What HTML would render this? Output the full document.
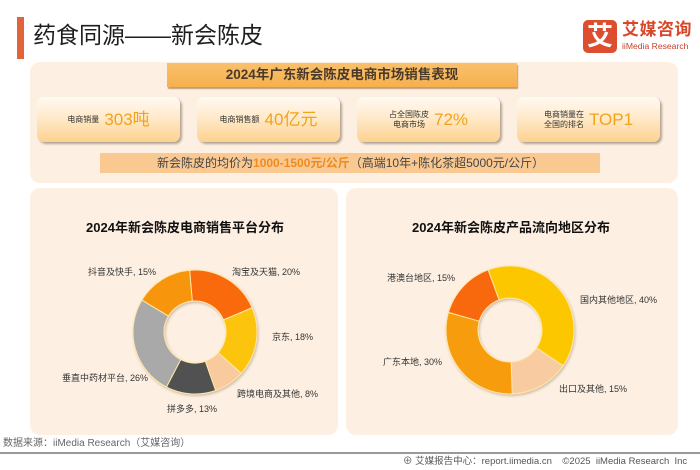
<!DOCTYPE html>
<html><head><meta charset="utf-8">
<style>
*{margin:0;padding:0;box-sizing:border-box;}
html,body{width:700px;height:470px;background:#fff;overflow:hidden;}
body{position:relative;font-family:"Liberation Sans","Noto Sans CJK SC",sans-serif;color:#333;}
.abs{position:absolute;}
.bar{left:17px;top:17px;width:7px;height:42px;background:#E2643A;}
.title{left:33px;top:18px;font-size:23px;line-height:34px;color:#1e1e1e;white-space:nowrap;}
.logo{left:583px;top:20px;width:34px;height:33px;background:#DD4E2E;border-radius:5px;color:#fff;font-size:26px;font-weight:bold;text-align:center;line-height:33px;}
.logot{left:622px;top:20px;font-size:17px;font-weight:bold;color:#D9472B;line-height:20px;white-space:nowrap;letter-spacing:0.5px;}
.logos{left:622px;top:41px;font-size:8.6px;color:#C8402A;line-height:10px;white-space:nowrap;}
.panel{background:#FDF0E3;border-radius:10px;}
.tbar{left:167px;top:63px;width:350px;height:24px;background:linear-gradient(#F9C06C,#F6B04E);box-shadow:1px 2px 1px rgba(140,90,30,0.55);text-align:center;font-size:13.5px;font-weight:bold;line-height:24px;color:#4a3a2a;white-space:nowrap;}
.card{top:97px;width:143px;height:45px;border-radius:7px;background:linear-gradient(180deg,#FFFAF2 0%,#FFEACB 45%,#FDD28E 100%);box-shadow:2px 2px 2px rgba(90,70,50,0.45);display:flex;align-items:center;justify-content:center;gap:5px;white-space:nowrap;}
.lab{font-size:8px;line-height:10px;color:#333;text-align:center;}
.val{font-size:17px;color:#F4A21C;line-height:22px;}
.price{left:100px;top:153px;width:500px;height:20px;background:#FAC992;font-size:12px;line-height:20px;color:#444;padding-left:57px;white-space:nowrap;}
.price b{color:#EF8A1C;}
.src{left:3px;top:437px;font-size:10px;color:#666;white-space:nowrap;line-height:14px;}
.line{left:0;top:452px;width:700px;height:2px;background:#9a9a9a;}
.foot{left:403px;top:455px;font-size:9.5px;color:#555;white-space:nowrap;line-height:14px;}
</style></head><body>
<div class="abs bar"></div>
<div class="abs title">药食同源——新会陈皮</div>
<div class="abs logo">艾</div>
<div class="abs logot">艾媒咨询</div>
<div class="abs logos">iiMedia Research</div>

<div class="abs panel" style="left:30px;top:62px;width:648px;height:121px;"></div>
<div class="abs tbar">2024年广东新会陈皮电商市场销售表现</div>

<div class="abs card" style="left:37px;"><div class="lab">电商销量</div><div class="val">303吨</div></div>
<div class="abs card" style="left:197px;"><div class="lab">电商销售额</div><div class="val">40亿元</div></div>
<div class="abs card" style="left:357px;"><div class="lab">占全国陈皮<br>电商市场</div><div class="val">72%</div></div>
<div class="abs card" style="left:517px;"><div class="lab">电商销量在<br>全国的排名</div><div class="val">TOP1</div></div>

<div class="abs price">新会陈皮的均价为<b>1000-1500元/公斤</b>（高端10年+陈化茶超5000元/公斤）</div>

<div class="abs panel" style="left:30px;top:188px;width:308px;height:247px;"></div>
<div class="abs panel" style="left:346px;top:188px;width:332px;height:247px;"></div>

<svg class="abs" style="left:0;top:0" width="700" height="470" viewBox="0 0 700 470" xmlns="http://www.w3.org/2000/svg">
<defs>
<filter id="sh" x="-20%" y="-20%" width="140%" height="140%">
<feDropShadow dx="1" dy="1.5" stdDeviation="1.2" flood-color="#7a5a30" flood-opacity="0.35"/>
</filter>
</defs>
<g font-family="Liberation Sans, Noto Sans CJK SC, sans-serif">
<text x="185" y="232" text-anchor="middle" font-size="13" font-weight="bold" fill="#111">2024年新会陈皮电商销售平台分布</text>
<text x="511" y="232" text-anchor="middle" font-size="13" font-weight="bold" fill="#111">2024年新会陈皮产品流向地区分布</text>
</g>
<g filter="url(#sh)" stroke="#FFE7A8" stroke-width="1">
<path d="M189.59,270.24 A62,62 0 0 1 252.07,307.78 L223.54,319.89 A31,31 0 0 0 192.30,301.12 Z" fill="#F96A08"/>
<path d="M252.07,307.78 A62,62 0 0 1 241.22,373.32 L218.11,352.66 A31,31 0 0 0 223.54,319.89 Z" fill="#FCC40A"/>
<path d="M241.22,373.32 A62,62 0 0 1 215.60,390.48 L205.30,361.24 A31,31 0 0 0 218.11,352.66 Z" fill="#F9CA9E"/>
<path d="M215.60,390.48 A62,62 0 0 1 166.47,387.04 L180.73,359.52 A31,31 0 0 0 205.30,361.24 Z" fill="#515151"/>
<path d="M166.47,387.04 A62,62 0 0 1 141.85,300.07 L168.43,316.03 A31,31 0 0 0 180.73,359.52 Z" fill="#A9A9A9"/>
<path d="M141.85,300.07 A62,62 0 0 1 189.59,270.24 L192.30,301.12 A31,31 0 0 0 168.43,316.03 Z" fill="#F7960E"/>

<path d="M488.11,269.86 A64,64 0 0 1 563.06,365.79 L536.53,347.89 A32,32 0 0 0 499.06,299.93 Z" fill="#FDC705"/>
<path d="M563.06,365.79 A64,64 0 0 1 512.23,393.96 L511.12,361.98 A32,32 0 0 0 536.53,347.89 Z" fill="#F9CBA0"/>
<path d="M512.23,393.96 A64,64 0 0 1 448.48,312.36 L479.24,321.18 A32,32 0 0 0 511.12,361.98 Z" fill="#F79C0C"/>
<path d="M448.48,312.36 A64,64 0 0 1 488.11,269.86 L499.06,299.93 A32,32 0 0 0 479.24,321.18 Z" fill="#F8680A"/>
</g>
<g font-family="Liberation Sans, Noto Sans CJK SC, sans-serif" font-size="9" fill="#333">
<text x="88" y="275">抖音及快手, 15%</text>
<text x="232" y="275">淘宝及天猫, 20%</text>
<text x="272" y="340">京东, 18%</text>
<text x="237" y="397">跨境电商及其他, 8%</text>
<text x="167" y="412">拼多多, 13%</text>
<text x="62" y="381">垂直中药材平台, 26%</text>

<text x="387" y="281">港澳台地区, 15%</text>
<text x="580" y="303">国内其他地区, 40%</text>
<text x="383" y="365">广东本地, 30%</text>
<text x="559" y="392">出口及其他, 15%</text>
</g>
</svg>

<div class="abs src">数据来源：iiMedia Research（艾媒咨询）</div>
<div class="abs line"></div>
<div class="abs foot">⊕ 艾媒报告中心：report.iimedia.cn &nbsp;&nbsp; ©2025 &nbsp;iiMedia Research &nbsp;Inc</div>
</body></html>
